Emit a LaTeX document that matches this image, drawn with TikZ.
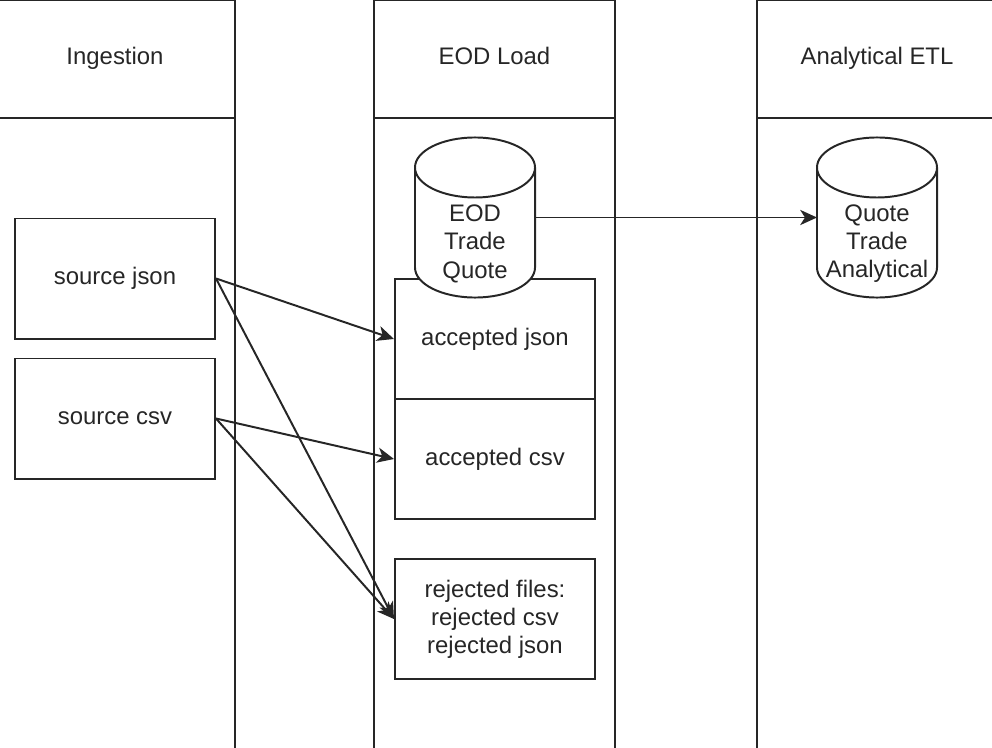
\documentclass[tikz,border=0pt]{standalone}
\usepackage{fontspec}
\setmainfont{Liberation Sans}
\usetikzlibrary{arrows.meta,positioning}

\begin{document}
\begin{tikzpicture}[x=0.025cm, y=-0.025cm, line width=1.4pt, color=black!85,
        font=\fontsize{17}{20}\selectfont,
        lanehead/.style={draw, rectangle, outer sep=0pt, minimum width=6cm, minimum height=2.95cm, text height=1em, text depth=0.16em},
        lanebody/.style={draw, rectangle, outer sep=0pt, minimum width=6cm, minimum height=16cm},
        box/.style={draw, rectangle, fill=white, minimum width=5cm, minimum height=3cm, align=center},
        dbarea/.style={rectangle, inner sep=0pt, outer sep=0pt, minimum width=3cm, minimum height=4cm},
        dbtext/.style={align=center, inner sep=0pt},
        flow/.style={-{Stealth[length=4.2mm, width=3.8mm, inset=1.2mm]}}]
    \useasboundingbox (0,0) rectangle (992,748);

    % Swimlanes
    \node[lanehead] (ingest) at (115,59) {Ingestion};
    \node[lanebody, below=0pt of ingest] (ingestlane) {};
    \node[lanehead] (eodload) at (494.5,59) {EOD Load};
    \node[lanebody, below=0pt of eodload] (eodlane) {};
    \node[lanehead] (etl) at (877,59) {Analytical ETL};
    \node[lanebody, below=0pt of etl] (etllane) {};

    % Ingestion sources
    \node[box] (srcjson) at (115,278.5) {source json};
    \node[box] (srccsv) at (115,418.5) {source csv};

    % EOD load targets
    \node[box] (accjson) at (495,339) {accepted json};
    \node[box] (acccsv) at (495,459) {accepted csv};
    \node[box] (rejected) at (495,619) {rejected files:\\rejected csv\\rejected json};

    % Stores (cylinders drawn round an empty area node)
    \node[dbarea] (eod) at (475,217.5) {};
    \draw[fill=white] ([yshift=-0.75cm]eod.north west) -- ([yshift=0.75cm]eod.south west)
        arc[start angle=180, end angle=360, x radius=1.5cm, y radius=0.75cm]
        -- ([yshift=-0.75cm]eod.north east)
        arc[start angle=0, end angle=180, x radius=1.5cm, y radius=0.75cm] -- cycle;
    \draw ([yshift=-0.75cm]eod.north west) arc[start angle=180, end angle=360, x radius=1.5cm, y radius=0.75cm];
    \node[dbtext] (eodtext) at ([yshift=-0.66cm]eod.center) {EOD\\Trade\\Quote};

    \node[dbarea] (quote) at (877,217.5) {};
    \draw[fill=white] ([yshift=-0.75cm]quote.north west) -- ([yshift=0.75cm]quote.south west)
        arc[start angle=180, end angle=360, x radius=1.5cm, y radius=0.75cm]
        -- ([yshift=-0.75cm]quote.north east)
        arc[start angle=0, end angle=180, x radius=1.5cm, y radius=0.75cm] -- cycle;
    \draw ([yshift=-0.75cm]quote.north west) arc[start angle=180, end angle=360, x radius=1.5cm, y radius=0.75cm];
    \node[dbtext] (quotetext) at ([yshift=-0.66cm]quote.center) {Quote\\Trade\\Analytical};

    % Flows
    \draw[flow] (srcjson.east) -- (accjson.west);
    \draw[flow] (srcjson.east) -- (rejected.west);
    \draw[flow] (srccsv.east) -- (acccsv.west);
    \draw[flow] (srccsv.east) -- (rejected.west);
    \draw[flow] (eod) -- (quote);
\end{tikzpicture}
\end{document}
